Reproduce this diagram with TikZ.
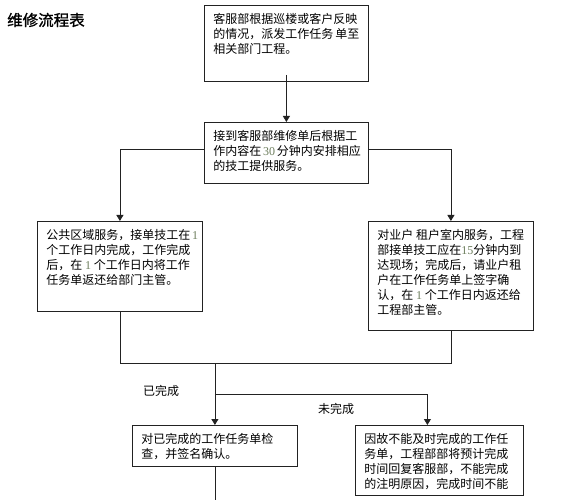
\documentclass[tikz,border=0pt]{standalone}
\usepackage{fontspec}
\newfontfamily\cjk{Noto Sans CJK SC}
\newfontfamily\cjkt[FakeBold=1.2]{Noto Sans CJK SC}
\newfontfamily\dig{Liberation Serif}
\usetikzlibrary{arrows.meta}
\definecolor{digitc}{HTML}{6E7F5E}
\definecolor{linec}{HTML}{222222}
\newcommand\dg[1]{{\dig\color{digitc}#1}}
\newcommand\bt[3]{\parbox[t][#2][t]{#1}{\cjk\fontsize{12}{15}\selectfont\raggedright #3}}
\begin{document}
\begin{tikzpicture}[x=1pt,y=-1pt,
 flowbox/.style={draw=linec, line width=0.8pt, inner xsep=9pt, inner ysep=8pt, anchor=north west, fill=white},
 conn/.style={draw=linec, line width=0.8pt},
 arr/.style={conn, -{Triangle[length=6pt,width=7pt]}},
 lbl/.style={font=\cjk\fontsize{12}{15}\selectfont, inner sep=0pt}]
\useasboundingbox (0,0) rectangle (563,500);
\fill[white] (0,0) rectangle (563,500);
\node[anchor=west, font=\cjkt\fontsize{15.5}{18}\selectfont, inner sep=0pt] (title) at (7,20) {维修流程表};
\node[flowbox] (b1) at (204,5) {\bt{146pt}{60pt}{客服部根据巡楼或客户反映\\的情况，派发工作任务~单至\\相关部门工程。}};
\node[flowbox] (b2) at (204,122) {\bt{146pt}{45pt}{接到客服部维修单后根据工\\作内容在~\dg{30}~分钟内安排相应\\的技工提供服务。}};
\node[flowbox] (bl) at (37,221) {\bt{147pt}{74pt}{公共区域服务，接单技工在~\dg{1}\\个工作日内完成，工作完成\\后，在~\dg{1}~个工作日内将工作\\任务单返还给部门主管。}};
\node[flowbox] (br) at (368,221) {\bt{147pt}{93pt}{对业户~租户室内服务，工程\\部接单技工应在\dg{15}分钟内到\\达现场；完成后，请业户租\\户在工作任务单上签字确\\认，在~\dg{1}~个工作日内返还给\\工程部主管。}};
\node[flowbox] (bbl) at (132,425) {\bt{147pt}{25pt}{对已完成的工作任务单检\\查，并签名确认。}};
\node[flowbox] (bbr) at (355,425) {\bt{150pt}{54pt}{因故不能及时完成的工作任\\务单，工程部部将预计完成\\时间回复客服部，不能完成\\的注明原因，完成时间不能}};
\draw[arr] ([yshift=7pt]b1.south) -- (b2.north);
\draw[arr] ([yshift=3pt]b2.west) -| (bl.north);
\draw[arr] ([yshift=3pt]b2.east) -| (br.north);
\coordinate (jl) at (bl.south |- 0,363);
\draw[conn] (bl.south) -- (jl) -| (br.south);
\coordinate (jc) at (bbl.north |- 0,363);
\draw[arr] (jc) -- (bbl.north);
\coordinate (jb) at (bbl.north |- 0,394);
\draw[arr] (jb) -| ([xshift=-12pt]bbr.north);
\coordinate (bend) at (bbl.south |- 0,500);
\draw[conn] (bbl.south) -- (bend);
\node[lbl] (done) at (161,391) {已完成};
\node[lbl] (undone) at (336,409) {未完成};
\end{tikzpicture}
\end{document}
